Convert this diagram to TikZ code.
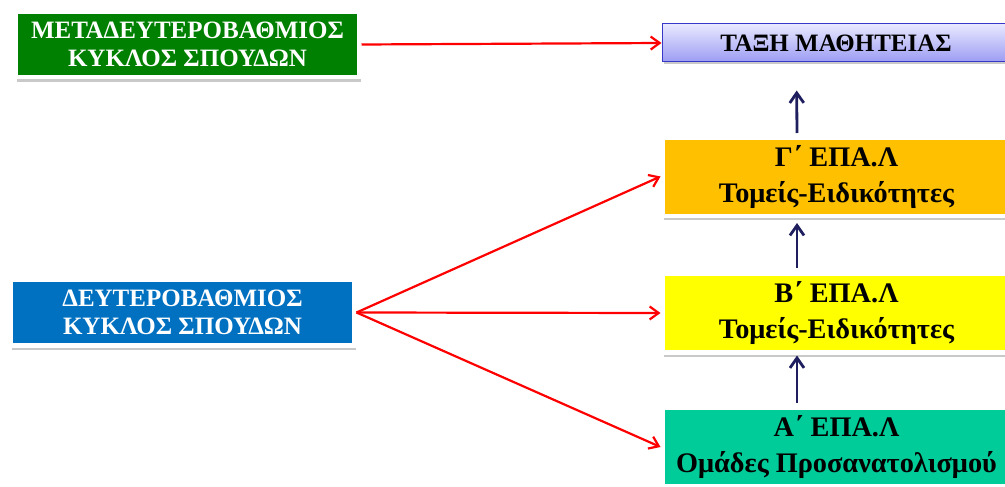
\documentclass[tikz,border=0pt]{standalone}
\usepackage{fontspec}
\setmainfont{Liberation Serif}
\usepackage{tikz}
\usetikzlibrary{positioning, calc}
\usetikzlibrary{arrows.meta, shadows}

\definecolor{metagreen}{HTML}{008000}
\definecolor{deutblue}{HTML}{0070C0}
\definecolor{gorange}{HTML}{FFC000}
\definecolor{byellow}{HTML}{FFFF00}
\definecolor{ateal}{HTML}{00CC99}
\definecolor{lavtop}{HTML}{E8E8FF}
\definecolor{lavbot}{HTML}{9C9CF4}
\definecolor{lavline}{HTML}{3838C8}
\definecolor{navy}{HTML}{1F1F60}

\begin{document}
\begin{tikzpicture}[x=1pt,y=-1pt,semithick,
  box/.style={draw=white, line width=4.5pt, align=center, inner sep=0pt,
    drop shadow={shadow xshift=1.5pt, shadow yshift=-4.5pt, opacity=.3, fill=black!70}},
  leftbox/.style={box, text=white, minimum width=343.5pt, minimum height=65.5pt,
    font=\bfseries\fontsize{25}{28}\selectfont},
  rightbox/.style={box, minimum width=347.5pt, minimum height=78.5pt,
    font=\bfseries\fontsize{28.3}{36}\selectfont},
  redarr/.style={-{Straight Barb[length=9pt,width=13pt]}, red, line width=2.2pt},
  navyarr/.style={-{Straight Barb[length=10pt,width=14pt]}, navy, line width=2.8pt}]

\useasboundingbox (0,0) rectangle (1005,487);

\node[leftbox, fill=metagreen] (M) at (187.5,44.5) {ΜΕΤΑΔΕΥΤΕΡΟΒΑΘΜΙΟΣ\\ΚΥΚΛΟΣ ΣΠΟΥΔΩΝ};
\node[leftbox, fill=deutblue]  (D) at (182.5,312.5) {ΔΕΥΤΕΡΟΒΑΘΜΙΟΣ\\ΚΥΚΛΟΣ ΣΠΟΥΔΩΝ};

\node[draw=lavline, line width=1pt, top color=lavtop, bottom color=lavbot,
  minimum width=348pt, minimum height=38pt, inner sep=0pt,
  font=\bfseries\fontsize{25}{28}\selectfont,
  drop shadow={shadow xshift=1.5pt, shadow yshift=-2.5pt, opacity=.3, fill=black!70}]
  (T) at (836,43) {ΤΑΞΗ ΜΑΘΗΤΕΙΑΣ};

\node[rightbox, fill=gorange] (G) at (836.5,176.5) {Γ΄ ΕΠΑ.Λ\\Τομείς-Ειδικότητες};
\node[rightbox, fill=byellow] (B) at (836.5,313)   {Β΄ ΕΠΑ.Λ\\Τομείς-Ειδικότητες};
\node[rightbox, fill=ateal]   (A) at (836.5,447)   {Α΄ ΕΠΑ.Λ\\Ομάδες Προσανατολισμού};

\path[redarr]
	(M.east) edge (T.west)
	(D.east) edge (G.west)
	(D.east) edge (B.west)
	(D.east) edge (A.west);

\path[navyarr]
	([xshift=-39.5pt]G.north) edge[shorten <=2pt, shorten >=28pt] ([xshift=-39.5pt]T.south)
	([xshift=-39.5pt]B.north) edge[shorten <=4pt, shorten >=5pt] ([xshift=-39.5pt]G.south)
	([xshift=-39.5pt]A.north) edge[shorten <=3pt, shorten >=1pt] ([xshift=-39.5pt]B.south);
\end{tikzpicture}
\end{document}
